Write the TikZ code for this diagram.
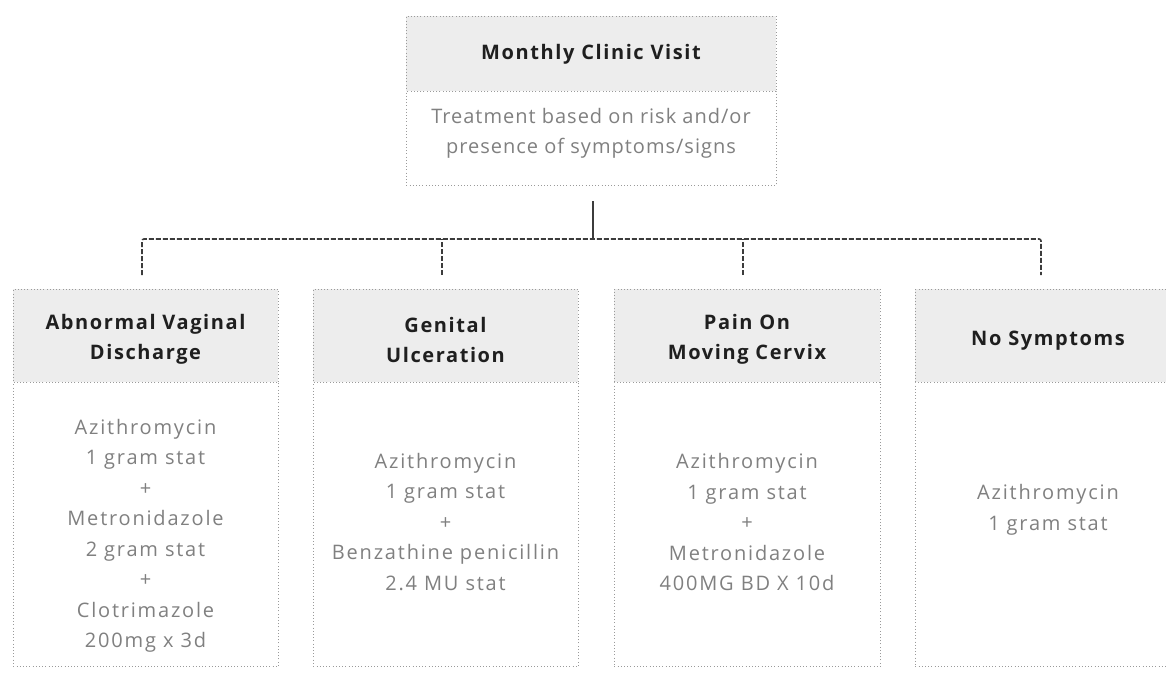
\documentclass[tikz,border=0pt]{standalone}
\usepackage{fontspec}
\setmainfont{Open Sans}
\definecolor{hdrfill}{HTML}{EDEDED}
\definecolor{bordc}{HTML}{9A9A9A}
\definecolor{bodytxt}{HTML}{808080}
\definecolor{connc}{HTML}{3C3C3C}
\tikzset{
  boxline/.style={draw=bordc, line width=0.9pt, dash pattern=on 1pt off 2.2pt},
  hdrbox/.style={boxline, fill=hdrfill, anchor=north west, inner sep=0pt},
  bdybox/.style={boxline, fill=white, anchor=north west, inner sep=0pt},
  hdrtxt/.style={align=center, inner sep=0pt,
    font=\fontsize{20}{30}\selectfont\bfseries\addfontfeatures{LetterSpace=8}, text=black!88},
  bdytxt/.style={align=center, inner sep=0pt,
    font=\fontsize{20}{30.5}\selectfont\addfontfeatures{LetterSpace=9}, text=bodytxt},
  topbdytxt/.style={bdytxt, font=\fontsize{20}{30}\selectfont\addfontfeatures{LetterSpace=5}},
  conn/.style={draw=connc, line width=1.6pt, dash pattern=on 5pt off 2pt, rounded corners=2pt},
  stem/.style={draw=connc, line width=1.6pt}
}
\begin{document}
\begin{tikzpicture}[x=1pt,y=-1pt]
\useasboundingbox (0,0) rectangle (1166,687);
\clip (0,0) rectangle (1166,687);
% top box
\node[hdrbox, minimum width=370, minimum height=75] (th) at (406,16) {};
\node[bdybox, minimum width=370, minimum height=94] (tb) at (406,91) {};
\node[hdrtxt] (tht) at (591,54) {Monthly Clinic Visit};
\node[topbdytxt] (tbt) at (591,133.5) {Treatment based on risk and/or\\presence of symptoms/signs};
% bottom boxes
\node[hdrbox, minimum width=265, minimum height=93] (h1) at (13,289) {};
\node[bdybox, minimum width=265, minimum height=284] (b1) at (13,382) {};
\node[hdrbox, minimum width=265, minimum height=93] (h2) at (313,289) {};
\node[bdybox, minimum width=265, minimum height=284] (b2) at (313,382) {};
\node[hdrbox, minimum width=266, minimum height=93] (h3) at (614,289) {};
\node[bdybox, minimum width=266, minimum height=284] (b3) at (614,382) {};
\node[hdrbox, minimum width=266, minimum height=93] (h4) at (915,289) {};
\node[bdybox, minimum width=266, minimum height=284] (b4) at (915,382) {};
% header texts
\node[hdrtxt] (h1t) at (145.5,339.5) {Abnormal Vaginal\\Discharge};
\node[hdrtxt] (h2t) at (445.5,339.5) {Genital\\Ulceration};
\node[hdrtxt] (h3t) at (747,339.5) {Pain On\\Moving Cervix};
\node[hdrtxt] (h4t) at (1048,340.5) {No Symptoms};
% body texts
\node[bdytxt] (b1t) at (145.5,536) {Azithromycin\\1 gram stat\\+\\Metronidazole\\2 gram stat\\+\\Clotrimazole\\200mg x 3d};
\node[bdytxt] (b2t) at (445.5,522) {Azithromycin\\1 gram stat\\+\\Benzathine penicillin\\2.4 MU stat};
\node[bdytxt] (b3t) at (747,522) {Azithromycin\\1 gram stat\\+\\Metronidazole\\400MG BD X 10d};
\node[bdytxt] (b4t) at (1048,510) {Azithromycin\\1 gram stat};
% connectors
\coordinate (j) at (593,239);
\coordinate (s) at (593,201);
\coordinate (d1) at (142,275);
\coordinate (d2) at (442,275);
\coordinate (d3) at (743,275);
\coordinate (d4) at (1041,275);
\draw[stem] (s) -- (j);
\draw[conn] (d1) |- (j) -| (d4);
\draw[conn] (d2) -- (d2 |- j);
\draw[conn] (d3) -- (d3 |- j);
\end{tikzpicture}
\end{document}
